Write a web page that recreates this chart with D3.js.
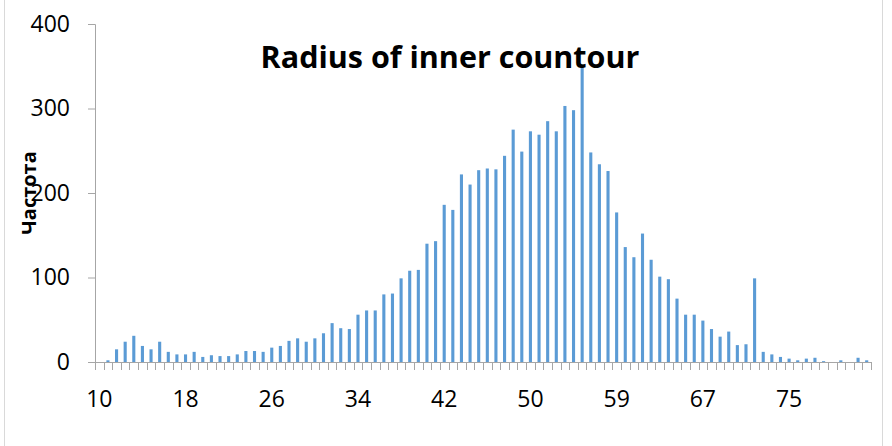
<!DOCTYPE html>
<html>
<head>
<meta charset="utf-8">
<script src="https://cdn.jsdelivr.net/npm/d3@7"></script>
<style>
  body { margin: 0; background: #fff; }
  text { font-family: "Open Sans", "Liberation Sans", sans-serif; fill: #000; }
</style>
</head>
<body>
<div id="chart"></div>
<script>
// histogram counts, one per bin (90 bins)
const counts = [
  0, 2, 15, 24, 31, 19, 15, 24, 12, 9,
  9, 12, 6, 8, 7, 7, 9, 13, 13, 12,
  17, 19, 25, 28, 24, 28, 34, 46, 40, 39,
  56, 61, 61, 80, 81, 99, 108, 109, 140, 143,
  186, 180, 222, 210, 227, 229, 228, 244, 275, 249,
  273, 269, 285, 273, 303, 298, 352, 248, 234, 226,
  177, 136, 124, 152, 121, 101, 98, 75, 56, 56,
  49, 39, 30, 36, 20, 21, 99, 12, 9, 6,
  4, 2, 4, 5, 1, 0, 2, 0, 5, 2
];
// only every 10th bin gets a label
const tickLabels = ["10", "18", "26", "34", "42", "50", "59", "67", "75"];
const yTicks = [0, 100, 200, 300, 400];

const title = "Radius of inner countour";
const yTitle = "Частота";

var width = 892, height = 446;
var margin = {left: 95, right: 21, top: 24, bottom: 84};

var svg = d3.select("#chart").append("svg")
  .attr("width", width)
  .attr("height", height);

// chart border (cropped at top and bottom)
svg.append("line").attr("x1", 4.5).attr("x2", 4.5).attr("y1", 0).attr("y2", height)
  .attr("stroke", "#d9d9d9");
svg.append("line").attr("x1", 882.5).attr("x2", 882.5).attr("y1", 0).attr("y2", height)
  .attr("stroke", "#d9d9d9");

var bins = d3.range(counts.length);

var x = d3.scaleBand()
  .domain(bins)
  .range([margin.left, width - margin.right])
  .paddingInner(0.64)
  .paddingOuter(0.32);

var y = d3.scaleLinear()
  .domain([0, 400])
  .range([height - margin.bottom, margin.top]);

var step = x.step();
var x0 = margin.left, x1 = width - margin.right;

// bars
svg.append("g")
  .selectAll("rect")
  .data(counts)
  .enter()
  .append("rect")
  .attr("x", (d, i) => x(i))
  .attr("width", x.bandwidth())
  .attr("y", d => y(d))
  .attr("height", d => y(0) - y(d))
  .attr("fill", "#5b9bd5");

// y axis
var yAxis = svg.append("g")
  .attr("transform", "translate(" + x0 + ",0)")
  .call(d3.axisLeft(y).tickValues(yTicks).tickSize(7).tickPadding(18));
yAxis.selectAll("line, path").attr("stroke", "#a6a6a6");
yAxis.selectAll("text").style("font-size", "23px").attr("fill", "#000");

// x axis: ticks between bins, labels every 10th bin
var xAxisG = svg.append("g");
xAxisG.append("line")
  .attr("x1", x0).attr("x2", x1)
  .attr("y1", y(0) + 0.5).attr("y2", y(0) + 0.5)
  .attr("stroke", "#a6a6a6");
xAxisG.selectAll(".xt")
  .data(d3.range(counts.length + 1))
  .enter()
  .append("line")
  .attr("x1", i => Math.round(x0 + i * step) + 0.5)
  .attr("x2", i => Math.round(x0 + i * step) + 0.5)
  .attr("y1", y(0))
  .attr("y2", y(0) + 8)
  .attr("stroke", "#a6a6a6");
xAxisG.selectAll(".xl")
  .data(tickLabels)
  .enter()
  .append("text")
  .attr("x", (d, i) => x(i * 10) + x.bandwidth() / 2)
  .attr("y", 407)
  .attr("text-anchor", "middle")
  .style("font-size", "23px")
  .text(d => d);

// titles
svg.append("text")
  .attr("x", 450)
  .attr("y", 68)
  .attr("text-anchor", "middle")
  .style("font-size", "30.5px")
  .style("font-weight", "bold")
  .text(title);

svg.append("text")
  .attr("transform", "translate(36,193) rotate(-90)")
  .attr("text-anchor", "middle")
  .style("font-size", "20px")
  .style("font-weight", "bold")
  .text(yTitle);
</script>
</body>
</html>
